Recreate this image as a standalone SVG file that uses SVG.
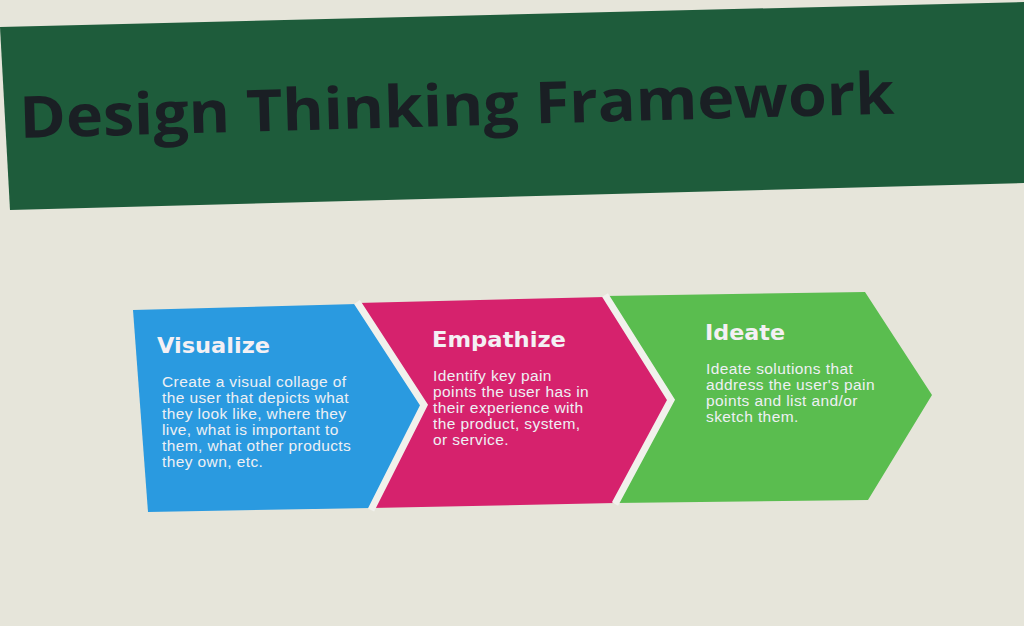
<svg xmlns="http://www.w3.org/2000/svg" width="1024" height="626" viewBox="0 0 1024 626">
<style>
.bg{fill:#e6e5da}
.gap{fill:none;stroke:#f1f1ec;stroke-width:7;stroke-linejoin:miter}
.head{font-family:"DejaVu Sans",sans-serif;font-weight:bold;font-size:21px;fill:#f4f0f4}
.body{font-family:"Liberation Sans",Arial,sans-serif;font-size:15.5px;letter-spacing:0.4px;fill:#eef0f4}
.title{font-family:"Open Sans","DejaVu Sans",sans-serif;font-weight:bold;font-size:58px;fill:#1a1f24}
</style>
<rect class="bg" x="0" y="0" width="1024" height="626"/>
<g id="banner">
<polygon points="0,27 1024,2 1024,183 10,210" fill="#1e5c3b"/>
<text class="title" x="20" y="138" transform="rotate(-1.6 20 138)" textLength="875" lengthAdjust="spacingAndGlyphs">Design Thinking Framework</text>
</g>
<g id="visualize">
<polygon points="133,310 357,304 424,405 371,508 148,512" fill="#2a9ae0"/>
<text class="head" x="157" y="353" textLength="113" lengthAdjust="spacingAndGlyphs">Visualize</text>
<text class="body" x="162" y="387">Create a visual collage of</text>
<text class="body" x="162" y="403">the user that depicts what</text>
<text class="body" x="162" y="419">they look like, where they</text>
<text class="body" x="162" y="435">live, what is important to</text>
<text class="body" x="162" y="451">them, what other products</text>
<text class="body" x="162" y="467">they own, etc.</text>
</g>
<g id="empathize">
<polygon points="357,303 605,297 671,400 615,503 371,508 424,405" fill="#d6226d"/>
<text class="head" x="432" y="347" textLength="134" lengthAdjust="spacingAndGlyphs">Empathize</text>
<text class="body" x="433" y="381">Identify key pain</text>
<text class="body" x="433" y="397">points the user has in</text>
<text class="body" x="433" y="413">their experience with</text>
<text class="body" x="433" y="429">the product, system,</text>
<text class="body" x="433" y="445">or service.</text>
</g>
<g id="ideate">
<polygon points="605,296 865,292 932,395 868,500 615,503 671,400" fill="#5abd4f"/>
<text class="head" x="705" y="340" textLength="80" lengthAdjust="spacingAndGlyphs">Ideate</text>
<text class="body" x="706" y="374">Ideate solutions that</text>
<text class="body" x="706" y="390">address the user's pain</text>
<text class="body" x="706" y="406">points and list and/or</text>
<text class="body" x="706" y="422">sketch them.</text>
</g>
<g id="connectors">
<polyline class="gap" points="357,302 424,405 371,510"/>
<polyline class="gap" points="605,295 671,400 615,504"/>
</g>
</svg>
